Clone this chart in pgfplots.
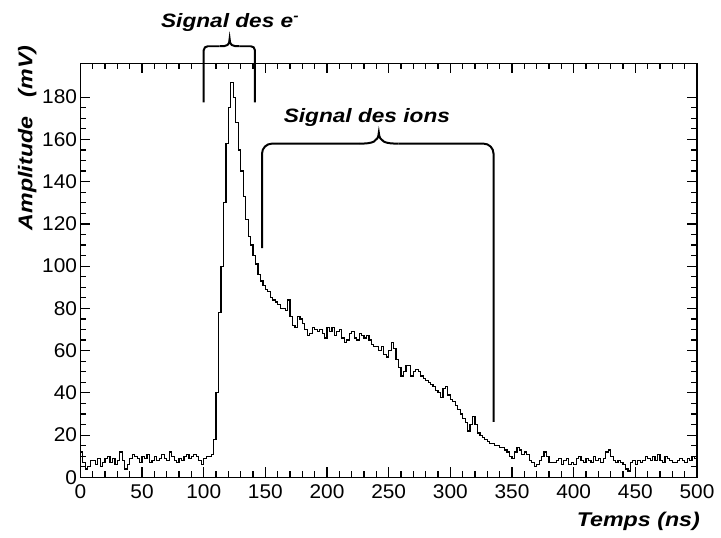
\documentclass[border=0pt]{standalone}
\usepackage{fontspec}
\setmainfont{Liberation Sans}
\newfontfamily\labfont[FakeStretch=1.17]{Liberation Sans}
\newfontfamily\tickfont[FakeStretch=1.05]{Liberation Sans}
\usepackage{pgfplots}
\pgfplotsset{compat=1.18}

% signal: time (ns), amplitude (mV), 2 ns bins
\pgfplotstableread{
t v
0 12
2 7
4 4
6 5
8 8
10 8
12 6
14 9
16 5
18 7
20 9
22 10
24 7
26 9
28 6
30 8
32 12
34 8
36 4
38 6
40 9
42 11
44 10
46 9
48 7
50 10
52 9
54 11
56 7
58 8
60 10
62 8
64 9
66 11
68 9
70 8
72 12
74 10
76 8
78 7
80 9
82 8
84 10
86 11
88 9
90 10
92 11
94 10
96 8
98 6
100 9
102 10
104 10
106 11
108 18
110 40
112 78
114 100
116 130
118 158
120 175
122 187
124 180
126 168
128 155
130 145
132 133
134 122
136 114
138 110
140 105
142 101
144 96
146 93
148 91
150 89
152 88
154 85
156 84
158 83
160 82
162 80
164 80
166 79
168 84
170 76
172 72
174 71
176 76
178 75
180 73
182 70
184 67
186 68
188 71
190 70
192 69
194 70
196 68
198 66
200 71
202 69
204 71
206 67
208 69
210 70
212 66
214 64
216 65
218 68
220 69
222 66
224 65
226 68
228 67
230 66
232 67
234 65
236 63
238 62
240 62
242 60
244 62
246 58
248 57
250 60
252 64
254 61
256 56
258 52
260 48
262 50
264 53
266 53
268 48
270 50
272 51
274 50
276 48
278 47
280 46
282 45
284 44
286 43
288 41
290 40
292 38
294 42
296 43
298 39
300 37
302 36
304 34
306 32
308 30
310 28
312 26
314 22
316 25
318 29
320 25
322 21
324 20
326 19
328 18
330 17
332 16
334 16
336 15
338 15
340 14
342 14
344 13
346 12
348 10
350 9
352 12
354 14
356 13
358 11
360 12
362 11
364 8
366 7
368 5
370 6
372 8
374 10
376 12
378 10
380 7
382 7
384 7
386 8
388 9
390 6
392 8
394 9
396 6
398 7
400 6
402 9
404 10
406 8
408 7
410 9
412 8
414 7
416 10
418 8
420 9
422 7
424 9
426 12
428 13
430 10
432 8
434 7
436 8
438 7
440 6
442 4
444 3
446 7
448 8
450 6
452 8
454 7
456 8
458 10
460 9
462 8
464 10
466 8
468 11
470 8
472 7
474 10
476 9
478 8
480 7
482 7
484 8
486 9
488 8
490 7
492 9
494 8
496 10
498 9
500 9
}\signal

\begin{document}
\begin{tikzpicture}
\begin{axis}[
  scale only axis,
  width=310.5pt, height=208.5pt,
  xmin=0, xmax=500, ymin=0, ymax=196,
  xtick={0,50,...,500}, minor x tick num=4,
  ytick={0,20,...,180}, minor y tick num=3,
  tick align=inside,
  major tick length=5pt, minor tick length=3pt,
  every tick/.style={black, line width=0.6pt},
  axis line style={line width=0.75pt},
  tick label style={font=\tickfont\fontsize{10}{12}\selectfont},
  yticklabel style={inner xsep=1.5pt},
  /pgf/number format/assume math mode=true,
  xlabel={Temps (ns)},
  ylabel={Amplitude\ \ \ (mV)},
  label style={font=\labfont\fontsize{10}{12}\selectfont\bfseries\itshape},
  xlabel style={at={(ticklabel cs:1)}, anchor=north east, xshift=5pt},
  ylabel style={at={([xshift=-18.6pt]rel axis cs:0,0.82)}, anchor=south},
  clip=false,
]
\addplot[const plot, black, line width=0.6pt] table[x=t, y=v] {\signal};

% electron signal bracket
\draw[line width=1pt, rounded corners=2pt]
  (axis cs:100,177.5) -- (axis cs:100,204.1) -- (axis cs:113,204.1);
\draw[line width=1pt, rounded corners=2pt]
  (axis cs:129,204.1) -- (axis cs:141.5,204.1) -- (axis cs:141.5,177.5);
\draw[line width=1pt]
  (axis cs:113,204.1)
  .. controls (axis cs:119,204.1) and (axis cs:121,204.5) .. (axis cs:121,207.6)
  .. controls (axis cs:121,204.5) and (axis cs:123,204.1) .. (axis cs:129,204.1);
\node[anchor=base, font=\labfont\fontsize{9.75}{12}\selectfont\bfseries\itshape]
  at (axis cs:121.6,212.9) {Signal des e\textsuperscript{-}};

% ion signal bracket
\draw[line width=1pt, rounded corners=5pt]
  (axis cs:147.3,108.5) -- (axis cs:147.3,158) -- (axis cs:226,158);
\draw[line width=1pt, rounded corners=5pt]
  (axis cs:258,158) -- (axis cs:335,158) -- (axis cs:335,26.3);
\draw[line width=1pt]
  (axis cs:226,158)
  .. controls (axis cs:237,158) and (axis cs:241.5,158.8) .. (axis cs:242,163.2)
  .. controls (axis cs:242.5,158.8) and (axis cs:247,158) .. (axis cs:258,158);
\node[anchor=base, font=\labfont\fontsize{9.75}{12}\selectfont\bfseries\itshape]
  at (axis cs:232.3,168.2) {Signal des ions};

% page margins as in the reference
\path (axis cs:-65.2,226) (axis cs:515.3,-26.8);
\end{axis}
\end{tikzpicture}
\end{document}
